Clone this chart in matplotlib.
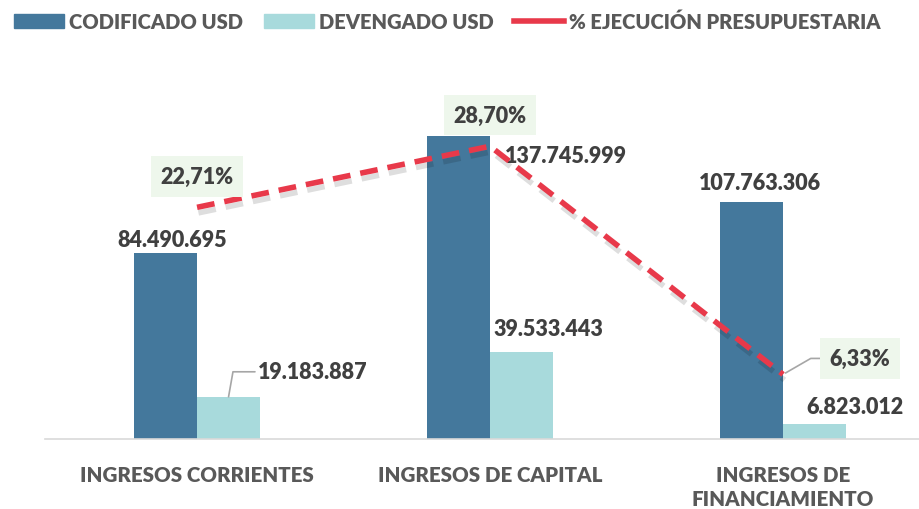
import numpy as np
import matplotlib.pyplot as plt
import matplotlib.patheffects as pe
from matplotlib.lines import Line2D
from matplotlib.patches import Patch

categorias = ["INGRESOS CORRIENTES", "INGRESOS DE CAPITAL", "INGRESOS DE\nFINANCIAMIENTO"]
codificado = [84490695, 137745999, 107763306]
devengado = [19183887, 39533443, 6823012]
ejecucion = [22.71, 28.70, 6.33]

azul = "#44789C"
celeste = "#A8DADC"
rojo = "#E8394A"
gris = "#404040"
peso = "heavy"

plt.rcParams['font.family'] = ['Lato', 'DejaVu Sans']

W, H = 919, 510
fig = plt.figure(figsize=(W / 100, H / 100), dpi=100)
ax = fig.add_axes([45 / W, (H - 440) / H, (W - 45) / W, 380 / H])

x = np.arange(len(categorias))
w = 0.215
ax.bar(x - w / 2, codificado, w, color=azul, zorder=2)
ax.bar(x + w / 2, devengado, w, color=celeste, zorder=2)

ax.set_xlim(-0.519, 2.464)
ax.set_ylim(0, 172.7e6)
for s in ["top", "right", "left"]:
    ax.spines[s].set_visible(False)
ax.spines["bottom"].set_color("#D9D9D9")
ax.spines["bottom"].set_linewidth(1.2)
ax.set_yticks([])
ax.set_xticks(x)
ax.set_xticklabels(categorias, fontsize=14.8, color="#595959", fontweight=peso, linespacing=1.3)
ax.tick_params(axis="x", length=0, pad=19)

fmt = lambda v: f"{v:,}".replace(",", ".")

# etiquetas de barras (offset en pixeles)
off_cod = [(7, 14), (107, -20), (8, 19)]
off_dev = [(84, 25), (27, 24), (40, 17)]
for i in range(3):
    ax.annotate(fmt(codificado[i]), (x[i] - w / 2, codificado[i]), xytext=off_cod[i],
                textcoords="offset pixels", ha="center", va="center",
                fontsize=15.5, color=gris, fontweight=peso, zorder=5)
    ax.annotate(fmt(devengado[i]), (x[i] + w / 2, devengado[i]), xytext=off_dev[i],
                textcoords="offset pixels", ha="center", va="center",
                fontsize=15.5, color=gris, fontweight=peso, zorder=5,
                arrowprops=dict(arrowstyle="-", color="#A6A6A6", lw=1.2,
                                shrinkA=52, shrinkB=0,
                                connectionstyle="angle,angleA=0,angleB=80,rad=0") if i == 0 else None)

ax2 = ax.twinx()
ax2.set_ylim(0, 37.25)
ax2.axis("off")
ax2.plot(x, ejecucion, color=rojo, lw=4, linestyle=(0, (3.2, 1.8)),
         path_effects=[pe.SimpleLineShadow(offset=(1, -4), shadow_color="black", alpha=0.13),
                       pe.Normal()], zorder=4)

box = dict(boxstyle="square,pad=0.45", fc="#EEF7EC", ec="none")
off_pct = [(0, 31), (0, 31), (77, 16)]
for i in range(3):
    ap = None
    if i == 2:
        ap = dict(arrowstyle="-", color="#A6A6A6", lw=1.2, shrinkA=0, shrinkB=2,
                  connectionstyle="angle,angleA=0,angleB=30,rad=0")
    ax2.annotate(f"{ejecucion[i]:.2f}%".replace(".", ","), (x[i], ejecucion[i]),
                 xytext=off_pct[i], textcoords="offset pixels", ha="center", va="center",
                 fontsize=15.5, color=gris, fontweight=peso, bbox=box, zorder=6,
                 arrowprops=ap)

handles = [Patch(color=azul), Patch(color=celeste), Line2D([], [], color=rojo, lw=4)]
fig.legend(handles, ["CODIFICADO USD", "DEVENGADO USD", "% EJECUCIÓN PRESUPUESTARIA"],
           loc="center left", bbox_to_anchor=(0.0, 1 - 22 / H), ncol=3, frameon=False,
           prop=dict(size=14.5, weight=peso), labelcolor="#595959",
           handlelength=2.5, handletextpad=0.25, columnspacing=1.0, borderaxespad=0.3)

fig.savefig("out.png", dpi=100)
